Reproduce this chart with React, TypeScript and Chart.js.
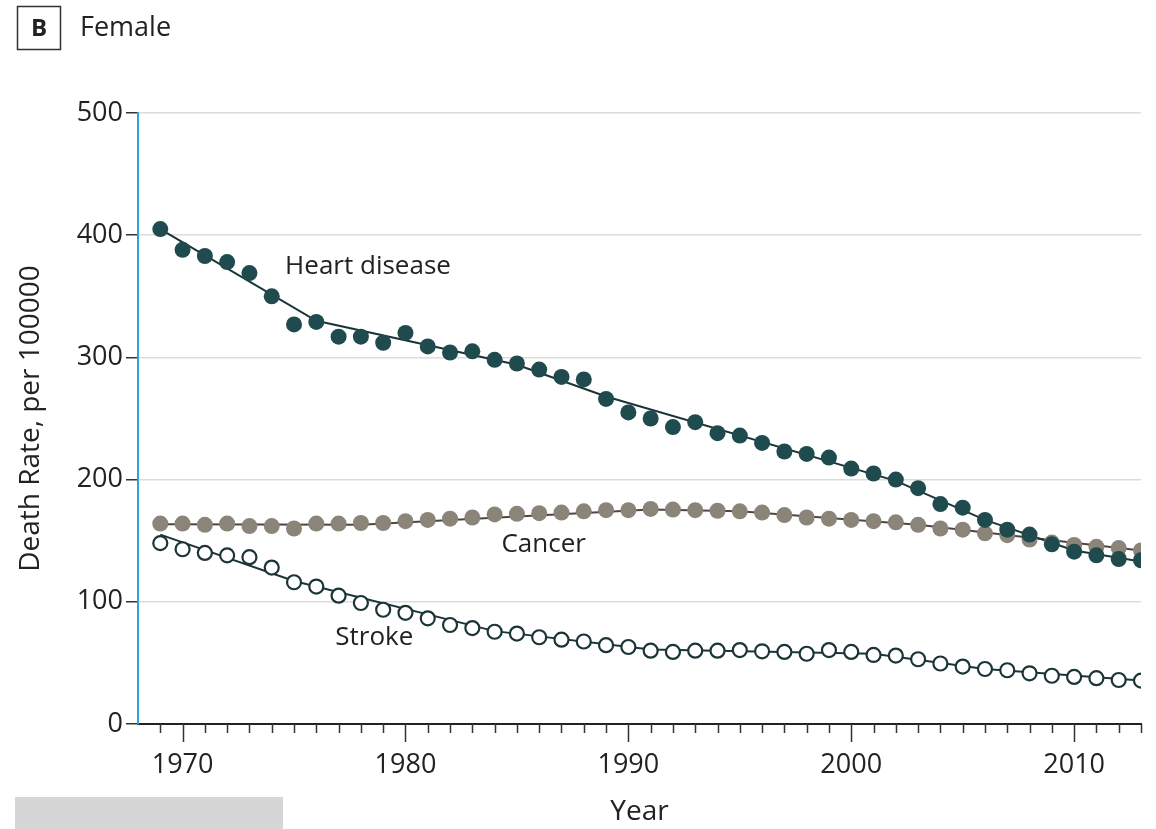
import React, { useEffect, useRef } from "react";
import { Chart, registerables } from "chart.js";

Chart.register(...registerables);

// ---- Data ----
const years = [
  1969, 1970, 1971, 1972, 1973, 1974, 1975, 1976, 1977, 1978, 1979,
  1980, 1981, 1982, 1983, 1984, 1985, 1986, 1987, 1988, 1989,
  1990, 1991, 1992, 1993, 1994, 1995, 1996, 1997, 1998, 1999,
  2000, 2001, 2002, 2003, 2004, 2005, 2006, 2007, 2008, 2009,
  2010, 2011, 2012, 2013,
];

const heartDisease = [
  405, 388, 383, 378, 369, 350, 327, 329, 317, 317, 312,
  320, 309, 304, 305, 298, 295, 290, 284, 282, 266,
  255, 250, 243, 247, 238, 236, 230, 223, 221, 218,
  209, 205, 200, 193, 180, 177, 167, 159, 155, 147,
  141, 138, 135, 134,
];

const cancer = [
  164, 164, 163, 164, 162, 162, 160, 164, 164, 164.5, 164.5,
  166, 167, 168, 169, 171.5, 172, 172.5, 173, 174, 175,
  175, 176, 175.5, 175, 174.5, 174, 173, 171, 169, 168,
  167, 166, 165, 163, 160, 159, 156, 154.5, 151, 148.5,
  146.5, 145, 144, 142,
];

const stroke = [
  148, 143, 140, 138, 136.5, 128, 116, 112.5, 105, 99, 93.5,
  91, 86.5, 81, 78.5, 75.5, 74, 71, 69, 67.5, 64.5,
  63, 60, 59, 60, 60, 60.5, 59.5, 59, 57.5, 60.5,
  59, 56.5, 56, 53, 49.5, 47, 45, 44, 41.5, 39.5,
  38.5, 37.5, 36, 35.5,
];

// joinpoint (fitted) trend lines
const heartFitYears = [1969, 1976, 1985, 1989, 2002, 2006, 2010, 2013];
const heartFitValues = [405, 330, 294, 268, 199, 167, 142, 133];
const cancerFitYears = [1969, 1978, 1991, 1995, 2003, 2013];
const cancerFitValues = [163.5, 163, 175.5, 174, 163, 142];
const strokeFitYears = [1969, 1975, 1984, 1991, 2001, 2006, 2013];
const strokeFitValues = [155, 117, 76, 61, 57.5, 45, 35.5];

const yTickValues = [0, 100, 200, 300, 400, 500];
const xTickLabels = [1970, 1980, 1990, 2000, 2010];

const seriesNames = ["Heart disease", "Cancer", "Stroke"];
const nameYears = [1974.6, 1986.2, 1978.6];
const nameValues = [374, 146.5, 70.4];
const nameAligns: CanvasTextAlign[] = ["left", "center", "center"];

const FONT = "'Open Sans', 'Noto Sans', sans-serif";
const DARK = "#1f4a4e";
const LINE = "#1b3537";
const CANCER = "#8b8478";

const toPts = (xs: number[], ys: number[]) => xs.map((x, i) => ({ x, y: ys[i] }));

const decorPlugin = {
  id: "decor",
  beforeDraw(chart: any) {
    const { ctx, width, height } = chart;
    ctx.save();
    ctx.fillStyle = "#ffffff";
    ctx.fillRect(0, 0, width, height);
    ctx.restore();
  },
  afterDraw(chart: any) {
    const { ctx } = chart;
    const xs = chart.scales.x;
    const ys = chart.scales.y;
    const y0 = ys.getPixelForValue(0);
    ctx.save();
    // year tick marks
    ctx.strokeStyle = "#333";
    ctx.lineWidth = 1.5;
    years.forEach((yr) => {
      const px = Math.round(xs.getPixelForValue(yr)) + 0.5;
      const len = yr % 10 === 0 ? 18 : 9;
      ctx.beginPath();
      ctx.moveTo(px, y0);
      ctx.lineTo(px, y0 + len);
      ctx.stroke();
    });
    // series names
    ctx.fillStyle = "#222";
    ctx.font = `26px ${FONT}`;
    ctx.textBaseline = "middle";
    seriesNames.forEach((n, i) => {
      ctx.textAlign = nameAligns[i];
      ctx.fillText(n, xs.getPixelForValue(nameYears[i]), ys.getPixelForValue(nameValues[i]));
    });
    // panel title
    ctx.strokeStyle = "#333";
    ctx.lineWidth = 1.5;
    ctx.strokeRect(17.5, 6.5, 43, 43);
    ctx.font = `bold 24px ${FONT}`;
    ctx.textAlign = "center";
    ctx.fillText("B", 39, 29);
    ctx.font = `27px ${FONT}`;
    ctx.textAlign = "left";
    ctx.fillText("Female", 80, 28);
    // watermark box
    ctx.fillStyle = "#d6d6d6";
    ctx.fillRect(15, 797, 268, 32);
    ctx.restore();
  },
};

export default function App() {
  const ref = useRef<HTMLCanvasElement>(null);
  useEffect(() => {
    if (!ref.current) return;
    const chart = new Chart(ref.current, {
      type: "scatter",
      data: {
        datasets: [
          {
            label: "Heart disease",
            data: toPts(years, heartDisease),
            showLine: false,
            pointRadius: 8,
            pointBackgroundColor: DARK,
            pointBorderColor: DARK,
            pointBorderWidth: 0,
            order: 0,
          },
          {
            label: "Cancer",
            data: toPts(years, cancer),
            showLine: false,
            pointRadius: 8,
            pointBackgroundColor: CANCER,
            pointBorderColor: CANCER,
            pointBorderWidth: 0,
            order: 0,
          },
          {
            label: "Stroke",
            data: toPts(years, stroke),
            showLine: false,
            pointRadius: 7,
            pointBackgroundColor: "#ffffff",
            pointBorderColor: LINE,
            pointBorderWidth: 2.2,
            order: 0,
          },
          {
            label: "Heart fit",
            data: toPts(heartFitYears, heartFitValues),
            showLine: true,
            borderColor: LINE,
            borderWidth: 2,
            pointRadius: 0,
            order: 1,
          },
          {
            label: "Cancer fit",
            data: toPts(cancerFitYears, cancerFitValues),
            showLine: true,
            borderColor: "#4b4740",
            borderWidth: 2,
            pointRadius: 0,
            order: 1,
          },
          {
            label: "Stroke fit",
            data: toPts(strokeFitYears, strokeFitValues),
            showLine: true,
            borderColor: LINE,
            borderWidth: 2,
            pointRadius: 0,
            order: 1,
          },
        ],
      },
      options: {
        animation: false,
        responsive: false,
        devicePixelRatio: 1,
        events: [],
        layout: { padding: { top: 113, right: 15, left: 0, bottom: 0 } },
        plugins: {
          legend: { display: false },
          tooltip: { enabled: false },
        },
        scales: {
          x: {
            type: "linear",
            min: 1968,
            max: 2013,
            afterBuildTicks: (s: any) => {
              s.ticks = xTickLabels.map((v) => ({ value: v }));
            },
            afterFit: (s: any) => {
              s.height = 105;
            },
            ticks: {
              autoSkip: false,
              maxRotation: 0,
              padding: 25,
              color: "#222",
              font: { family: FONT, size: 27 },
              callback: (v: any) => String(v),
            },
            grid: { display: false, drawTicks: false },
            border: { display: true, color: "#222", width: 2 },
            title: {
              display: true,
              text: "Year",
              color: "#222",
              font: { family: FONT, size: 28 },
              padding: { top: 0, bottom: 0 },
            },
          },
          y: {
            min: 0,
            max: 500,
            afterBuildTicks: (s: any) => {
              s.ticks = yTickValues.map((v) => ({ value: v }));
            },
            afterFit: (s: any) => {
              s.width = 138;
            },
            ticks: {
              padding: 3,
              color: "#222",
              font: { family: FONT, size: 27 },
            },
            grid: {
              color: (c: any) => (c.tick && c.tick.value === 0 ? "rgba(0,0,0,0)" : "#dcdcdc"),
              lineWidth: 1.5,
              tickLength: 12,
              tickColor: "#333",
              tickWidth: 1.5,
            },
            border: { display: true, color: "#2ea3d6", width: 2 },
            title: {
              display: true,
              text: "Death Rate, per 100000",
              color: "#222",
              font: { family: FONT, size: 28 },
              padding: { top: 14, bottom: 0 },
            },
          },
        },
      },
      plugins: [decorPlugin],
    } as any);
    return () => chart.destroy();
  }, []);
  return (
    <div style={{ position: "absolute", left: 0, top: 0, width: 1156, height: 829 }}>
      <canvas ref={ref} width={1156} height={829} style={{ display: "block" }} />
    </div>
  );
}
